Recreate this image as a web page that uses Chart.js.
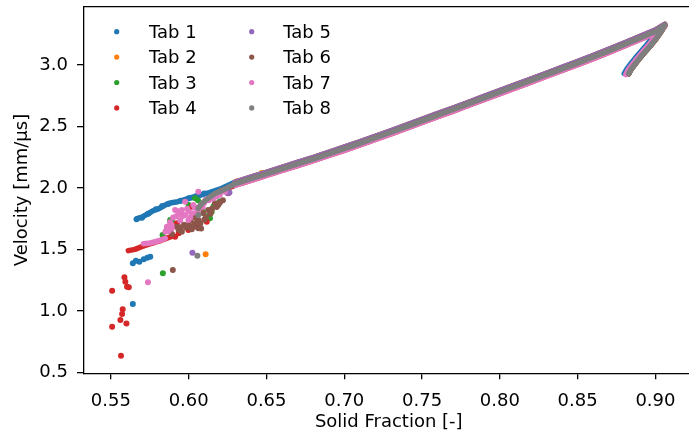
<!DOCTYPE html>
<html>
<head>
<meta charset="utf-8">
<script src="https://cdn.jsdelivr.net/npm/chart.js@4.4.0/dist/chart.umd.min.js"></script>
<style>
html, body { margin: 0; padding: 0; overflow: hidden; background: #fff; }
canvas { display: block; }
</style>
</head>
<body>
<canvas id="Grafica" width="698" height="434"></canvas>
<script>
const names = ['Tab 1', 'Tab 2', 'Tab 3', 'Tab 4', 'Tab 5', 'Tab 6', 'Tab 7', 'Tab 8'];
const colors = ['#1f77b4', '#ff7f0e', '#2ca02c', '#d62728', '#9467bd', '#8c564b', '#e377c2', '#7f7f7f'];
const xTicks = [0.55, 0.60, 0.65, 0.70, 0.75, 0.80, 0.85, 0.90];
const yTicks = [0.5, 1.0, 1.5, 2.0, 2.5, 3.0];

// main branch: centre, upper edge, lower edge  [solid fraction, velocity]
const mainMid = [[0.62,1.985],[0.63,2.035],[0.64,2.075],[0.65,2.115],[0.66,2.155],[0.67,2.195],[0.68,2.235],[0.69,2.277],[0.70,2.319],[0.71,2.363],[0.72,2.408],[0.73,2.453],[0.74,2.499],[0.75,2.545],[0.76,2.592],[0.77,2.638],[0.78,2.685],[0.79,2.732],[0.80,2.780],[0.81,2.827],[0.82,2.874],[0.83,2.921],[0.84,2.968],[0.85,3.015],[0.86,3.065],[0.87,3.115],[0.88,3.167],[0.89,3.220],[0.90,3.272],[0.906,3.322]];
const mainUp = [[0.62,1.997],[0.63,2.047],[0.64,2.087],[0.65,2.127],[0.66,2.167],[0.67,2.207],[0.68,2.247],[0.69,2.289],[0.70,2.331],[0.71,2.375],[0.72,2.420],[0.73,2.465],[0.74,2.511],[0.75,2.557],[0.76,2.604],[0.77,2.650],[0.78,2.697],[0.79,2.744],[0.80,2.792],[0.81,2.839],[0.82,2.886],[0.83,2.933],[0.84,2.980],[0.85,3.027],[0.86,3.077],[0.87,3.127],[0.88,3.179],[0.89,3.232],[0.90,3.284],[0.906,3.330]];
const mainLow = [[0.62,1.972],[0.63,2.022],[0.64,2.062],[0.65,2.102],[0.66,2.142],[0.67,2.182],[0.68,2.222],[0.69,2.264],[0.70,2.306],[0.71,2.350],[0.72,2.395],[0.73,2.440],[0.74,2.486],[0.75,2.532],[0.76,2.579],[0.77,2.625],[0.78,2.672],[0.79,2.719],[0.80,2.767],[0.81,2.814],[0.82,2.861],[0.83,2.908],[0.84,2.955],[0.85,3.002],[0.86,3.052],[0.87,3.102],[0.88,3.154],[0.89,3.207],[0.90,3.259],[0.906,3.315]];

// the hook back down after the peak
const hook8 = [[0.906,3.322],[0.9035,3.27],[0.9005,3.215],[0.897,3.16],[0.8935,3.11],[0.890,3.058],[0.887,3.01],[0.8845,2.968],[0.8828,2.93]];
const hook7 = [[0.9055,3.318],[0.9018,3.265],[0.8987,3.21],[0.8952,3.155],[0.8917,3.105],[0.8882,3.053],[0.8852,3.005],[0.8827,2.963],[0.881,2.922]];
const hook5 = [[0.9055,3.32],[0.9021,3.268],[0.8991,3.213],[0.8956,3.158],[0.8921,3.108],[0.8886,3.056],[0.8856,3.008],[0.8831,2.966],[0.8814,2.928]];
const hook1 = [[0.905,3.322],[0.9007,3.27],[0.8977,3.215],[0.8942,3.16],[0.8907,3.11],[0.8872,3.058],[0.8842,3.01],[0.8817,2.968],[0.880,2.93]];

// dense streaks at low solid fraction
const tab1Streak = [[0.5672,1.752],[0.5700,1.762],[0.5725,1.780],[0.5767,1.812],[0.5809,1.832],[0.5851,1.862],[0.5890,1.880],[0.5930,1.888],[0.5964,1.900],[0.6020,1.922],[0.6076,1.942],[0.6132,1.962],[0.6200,1.990]];
const tab4Streak = [[0.5612,1.490],[0.5655,1.500],[0.5697,1.522],[0.5739,1.541],[0.5780,1.556],[0.5820,1.572],[0.5860,1.592],[0.5900,1.610]];
const tab7Streak = [[0.5710,1.545],[0.5753,1.552],[0.5785,1.562],[0.5820,1.575],[0.5850,1.590]];
const tab8Streak = [[0.6062,1.834],[0.6075,1.860],[0.6105,1.895],[0.6135,1.925],[0.6169,1.955],[0.6233,1.990]];

// scattered points
const tab1Pts = [[0.5665,1.745],[0.5700,1.758],[0.5740,1.790],[0.5790,1.826],[0.5830,1.852],[0.5870,1.872],[0.5950,1.895],[0.6000,1.915],[0.6050,1.935],[0.6100,1.955],[0.5641,1.387],[0.5661,1.408],[0.5683,1.400],[0.5711,1.419],[0.5734,1.432],[0.5753,1.441],[0.5641,1.056]];
const tab2Pts = [[0.6109,1.460],[0.6308,2.052],[0.6470,2.122]];
const tab3Pts = [[0.5834,1.305],[0.5832,1.617],[0.5860,1.660],[0.5870,1.684],[0.5881,1.739],[0.5895,1.720],[0.6000,1.860],[0.6041,1.915],[0.6060,1.900],[0.6090,1.820],[0.6120,1.770],[0.6137,1.753],[0.6148,1.806],[0.6160,1.850],[0.6189,1.875],[0.6200,1.890]];
const tab4Pts = [[0.5587,1.273],[0.5593,1.237],[0.5604,1.196],[0.5615,1.191],[0.5508,1.164],[0.5576,1.012],[0.5572,0.974],[0.5561,0.925],[0.5600,0.898],[0.5508,0.871],[0.5565,0.635],[0.5913,1.603],[0.5936,1.631],[0.5924,1.712],[0.5956,1.780],[0.5998,1.657],[0.6020,1.847],[0.6052,1.684],[0.6080,1.840],[0.6116,1.725],[0.6140,1.800],[0.6180,1.860],[0.6254,1.956]];
const tab5Pts = [[0.6024,1.473],[0.6250,1.958],[0.6262,1.962]];
const tab6Pts = [[0.5898,1.332],[0.5893,1.626],[0.5924,1.684],[0.5935,1.660],[0.5950,1.680],[0.5956,1.644],[0.5970,1.700],[0.5985,1.675],[0.5998,1.698],[0.6010,1.730],[0.6020,1.663],[0.6030,1.690],[0.6040,1.760],[0.6041,1.712],[0.6062,1.739],[0.6062,1.671],[0.6075,1.710],[0.6080,1.669],[0.6094,1.793],[0.6100,1.740],[0.6110,1.760],[0.6126,1.820],[0.6140,1.790],[0.6150,1.830],[0.6169,1.875],[0.6180,1.845],[0.6190,1.860],[0.6200,1.880],[0.6220,1.900]];
const tab7Pts = [[0.5738,1.232],[0.5850,1.644],[0.5860,1.684],[0.5870,1.650],[0.5880,1.720],[0.5892,1.671],[0.5890,1.700],[0.5900,1.760],[0.5913,1.820],[0.5920,1.770],[0.5930,1.810],[0.5940,1.790],[0.5945,1.735],[0.5956,1.820],[0.5960,1.770],[0.5977,1.888],[0.5977,1.780],[0.5990,1.830],[0.5998,1.739],[0.6000,1.810],[0.6010,1.760],[0.6020,1.793],[0.6030,1.860],[0.6040,1.840],[0.6050,1.800],[0.6062,1.820],[0.6062,1.969],[0.6084,1.861],[0.6090,1.845],[0.6100,1.880],[0.6110,1.905],[0.6130,1.900],[0.6158,1.915],[0.6180,1.930],[0.6200,1.945],[0.6233,1.969]];
const tab8Pts = [[0.6056,1.448],[0.6062,1.780]];

function from(arr, x0) { return arr.filter(p => p[0] >= x0); }
function xy(arr) { return arr.map(p => ({x: p[0], y: p[1]})); }

const pointsByTab = [tab1Pts, tab2Pts, tab3Pts, tab4Pts, tab5Pts, tab6Pts, tab7Pts, tab8Pts];
const tracksByTab = [
    [tab1Streak.concat(from(mainUp, 0.63), hook1)],
    [from(mainUp, 0.63).concat(hook8)],
    [from(mainMid, 0.625).concat(hook8)],
    [tab4Streak, from(mainLow, 0.62).concat(hook8)],
    [from(mainUp, 0.625).concat(hook5)],
    [from(mainMid, 0.625).concat(hook8)],
    [tab7Streak, from(mainLow, 0.625).concat(hook7)],
    [tab8Streak.concat(from(mainMid, 0.63), hook8)]
];

const datasets = [];
names.forEach((name, i) => {
    const ord = (8 - i) * 10;
    datasets.push({
        label: name,
        data: xy(pointsByTab[i]),
        backgroundColor: colors[i],
        borderColor: colors[i],
        pointRadius: 3,
        pointBorderWidth: 0,
        order: ord
    });
    tracksByTab[i].forEach(seg => {
        datasets.push({
            label: '',
            data: xy(seg),
            showLine: true,
            borderColor: colors[i],
            backgroundColor: colors[i],
            borderWidth: 5.5,
            borderCapStyle: 'round',
            borderJoinStyle: 'round',
            pointRadius: 0,
            order: ord + 1
        });
    });
});

const font = {family: 'DejaVu Sans', size: 18};

const frame = {
    id: 'frame',
    afterDraw(chart) {
        const ctx = chart.ctx, a = chart.chartArea;
        ctx.save();
        ctx.strokeStyle = '#000';
        ctx.lineWidth = 1.3;
        ctx.beginPath();
        ctx.moveTo(a.left, a.top);
        ctx.lineTo(a.right, a.top);
        ctx.stroke();
        // legend, two columns
        ctx.font = '18px "DejaVu Sans"';
        ctx.textBaseline = 'alphabetic';
        names.forEach((name, i) => {
            const col = Math.floor(i / 4), row = i % 4;
            const my = 31.7 + row * 25.4;
            ctx.fillStyle = colors[i];
            ctx.beginPath();
            ctx.arc(116.7 + col * 135, my, 2.6, 0, Math.PI * 2);
            ctx.fill();
            ctx.fillStyle = '#000';
            ctx.fillText(name, 149 + col * 134.3, my + 6);
        });
        ctx.restore();
    }
};

const ctx = document.getElementById('Grafica').getContext('2d');
const grafica = new Chart(ctx, {
    type: 'scatter',
    data: { datasets: datasets },
    options: {
        responsive: false,
        animation: false,
        devicePixelRatio: 1,
        layout: { padding: { top: 6.7, left: 0, right: 0, bottom: 0 } },
        plugins: { legend: { display: false }, tooltip: { enabled: false } },
        scales: {
            x: {
                type: 'linear',
                min: 0.5324,
                max: 0.9248,
                afterBuildTicks: s => { s.ticks = xTicks.map(v => ({value: v})); },
                afterFit: s => { s.height = 60.7; s.paddingLeft = 0; s.paddingRight = 0; },
                ticks: { callback: v => v.toFixed(2), color: '#000', font: font, padding: 11, maxRotation: 0, autoSkip: false },
                grid: { display: true, drawOnChartArea: false, drawTicks: true, tickLength: 6, color: '#000', lineWidth: 1.3 },
                border: { display: true, color: '#000', width: 1.3 },
                title: { display: true, text: 'Solid Fraction [-]', color: '#000', font: font, padding: { top: 0, bottom: 1.2 } }
            },
            y: {
                type: 'linear',
                min: 0.492,
                max: 3.474,
                afterBuildTicks: s => { s.ticks = yTicks.map(v => ({value: v})); },
                afterFit: s => { s.width = 83.5; s.paddingTop = 0; s.paddingBottom = 0; },
                ticks: { callback: v => v.toFixed(1), color: '#000', font: font, padding: 9, autoSkip: false },
                grid: { display: true, drawOnChartArea: false, drawTicks: true, tickLength: 6.5, color: '#000', lineWidth: 1.3 },
                border: { display: true, color: '#000', width: 1.3 },
                title: { display: true, text: 'Velocity [mm/µs]', color: '#000', font: font, padding: { top: 12, bottom: 0 } }
            }
        }
    },
    plugins: [frame]
});
</script>
</body>
</html>
